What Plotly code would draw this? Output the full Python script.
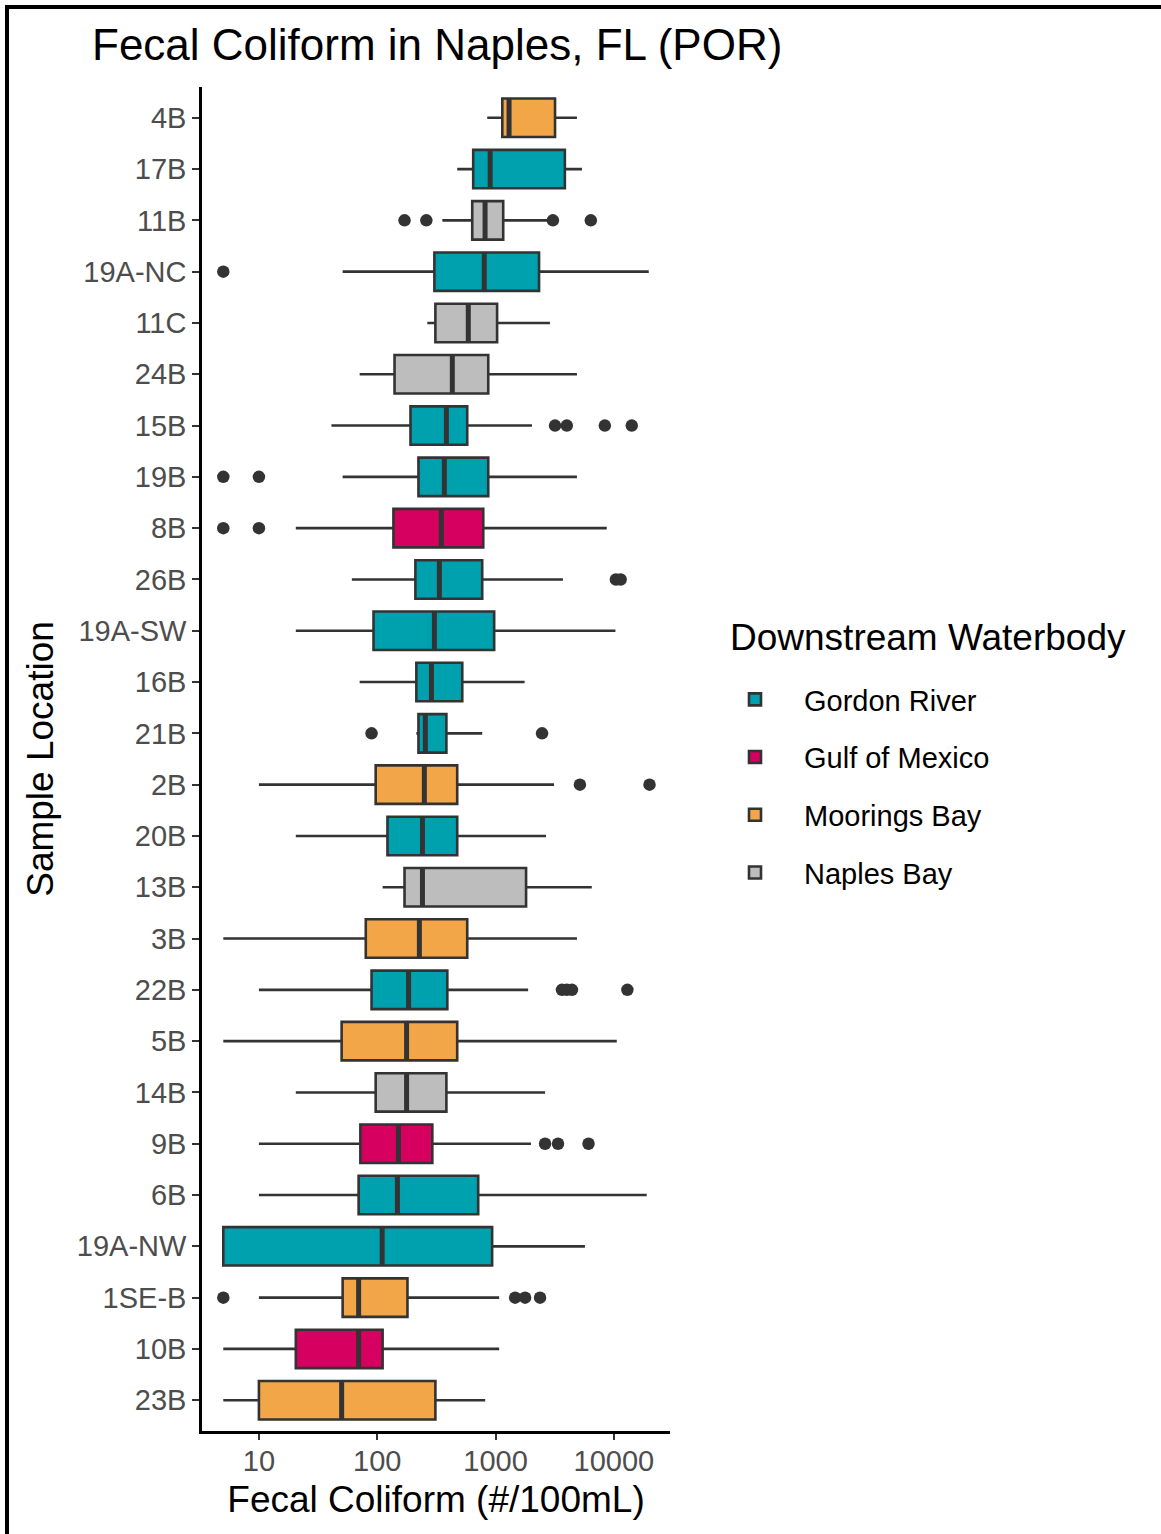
import plotly.graph_objects as go

# ---------------- data ----------------
sites = ["4B", "17B", "11B", "19A-NC", "11C", "24B", "15B", "19B", "8B", "26B",
         "19A-SW", "16B", "21B", "2B", "20B", "13B", "3B", "22B", "5B", "14B",
         "9B", "6B", "19A-NW", "1SE-B", "10B", "23B"]
waterbody = ["Moorings Bay", "Gordon River", "Naples Bay", "Gordon River", "Naples Bay",
             "Naples Bay", "Gordon River", "Gordon River", "Gulf of Mexico", "Gordon River",
             "Gordon River", "Gordon River", "Gordon River", "Moorings Bay", "Gordon River",
             "Naples Bay", "Moorings Bay", "Gordon River", "Moorings Bay", "Naples Bay",
             "Gulf of Mexico", "Gordon River", "Gordon River", "Moorings Bay", "Gulf of Mexico",
             "Moorings Bay"]
lower_whisker = [850, 474, 355, 51, 265, 71, 41, 51, 20.5, 61,
                 20.5, 71, 214, 10, 20.5, 111, 5, 10, 5, 20.5,
                 10, 10, 5, 10, 5, 5]
q1 = [1140, 647, 635, 304, 310, 140, 191, 223, 137, 210,
      93, 214, 223, 97, 122, 170, 80, 89.5, 50, 97,
      72, 69.6, 5, 51, 20.5, 10]
median = [1300, 900, 815, 802, 588, 431, 384, 369, 348, 335,
          304, 287, 255, 250, 241, 241, 227, 184, 177, 177,
          151, 148, 110, 69.6, 69.6, 50]
q3 = [3180, 3850, 1160, 2330, 1030, 867, 576, 867, 787, 771,
      973, 523, 384, 474, 474, 1810, 576, 391, 474, 384,
      292, 713, 935, 180, 111, 310]
upper_whisker = [4870, 5370, 2880, 19700, 2880, 4870, 2030, 4870, 8700, 3710,
                 10300, 1760, 771, 3120, 2670, 6500, 4870, 1884, 10570, 2620,
                 1990, 18930, 5690, 1072, 1072, 817]

outlier_site = ["11B", "11B", "11B", "11B",
                "19A-NC",
                "15B", "15B", "15B", "15B",
                "19B", "19B",
                "8B", "8B",
                "26B", "26B",
                "21B", "21B",
                "2B", "2B",
                "22B", "22B", "22B", "22B",
                "9B", "9B", "9B",
                "1SE-B", "1SE-B", "1SE-B", "1SE-B"]
outlier_value = [170, 260, 3050, 6380,
                 5,
                 3180, 4000, 8380, 14150,
                 5, 10,
                 5, 10,
                 10400, 11400,
                 89.5, 2470,
                 5160, 20000,
                 3640, 4000, 4420, 13000,
                 2620, 3370, 6100,
                 5, 1463, 1776, 2376]

groups = ["Gordon River", "Gulf of Mexico", "Moorings Bay", "Naples Bay"]
group_colors = ["#00A1AF", "#D5005F", "#F2A647", "#BDBDBD"]

xtick_vals = [10, 100, 1000, 10000]
xtick_text = ["10", "100", "1000", "10000"]

# ---------------- figure ----------------
W, H = 1161, 1534
L, R, T, B = 202, 491, 87, 103
pw, ph = W - L - R, H - T - B
FONT = "Liberation Sans, Arial, sans-serif"
LINE = "#333333"


def px_x(px):
    return (px - L) / pw


def px_y(py):
    return (T + ph - py) / ph


fig = go.Figure()

for g, col in zip(groups, group_colors):
    idx = [i for i, w in enumerate(waterbody) if w == g]
    fig.add_trace(go.Box(
        orientation="h",
        name=g,
        legendgroup=g,
        y=[sites[i] for i in idx],
        q1=[q1[i] for i in idx],
        median=[median[i] for i in idx],
        q3=[q3[i] for i in idx],
        lowerfence=[lower_whisker[i] for i in idx],
        upperfence=[upper_whisker[i] for i in idx],
        fillcolor=col,
        line=dict(color=LINE, width=2.6),
        whiskerwidth=0,
        width=0.75,
        boxpoints=False,
        hoverinfo="skip",
    ))

# thicker median bars (ggplot style)
fig.add_trace(go.Scatter(
    x=median, y=sites, mode="markers",
    marker=dict(symbol="line-ns", size=27.5, color=LINE, line=dict(color=LINE, width=5)),
    showlegend=False, hoverinfo="skip",
))

# outliers
fig.add_trace(go.Scatter(
    x=outlier_value, y=outlier_site, mode="markers",
    marker=dict(size=12.5, color=LINE),
    showlegend=False, hoverinfo="skip", cliponaxis=False,
))

fig.update_layout(
    width=W, height=H,
    margin=dict(l=L, r=R, t=T, b=B, pad=0),
    paper_bgcolor="white", plot_bgcolor="white",
    font=dict(family=FONT, color="black"),
    boxmode="overlay",
    title=dict(text="Fecal Coliform in Naples, FL (POR)",
               font=dict(size=44, color="black", family=FONT),
               x=92 / W, xanchor="left", xref="container",
               y=1 - 45 / H, yanchor="middle", yref="container"),
    xaxis=dict(
        type="log", range=[0.519, 4.474],
        tickvals=xtick_vals, ticktext=xtick_text,
        tickfont=dict(size=29, color="#4D4D4D", family=FONT),
        ticks="outside", ticklen=6, tickwidth=2, tickcolor=LINE,
        ticklabelstandoff=-4,
        showline=True, linecolor="black", linewidth=2.5,
        showgrid=False, zeroline=False,
        title=dict(text="Fecal Coliform (#/100mL)", standoff=11,
                   font=dict(size=37, color="black", family=FONT)),
    ),
    yaxis=dict(
        type="category", categoryorder="array", categoryarray=sites[::-1],
        range=[-0.6, len(sites) - 0.4],
        tickfont=dict(size=29, color="#4D4D4D", family=FONT),
        ticks="outside", ticklen=7, tickwidth=2, tickcolor=LINE,
        showline=True, linecolor="black", linewidth=2.5,
        showgrid=False, zeroline=False,
        title=dict(text="Sample Location", standoff=12,
                   font=dict(size=37, color="black", family=FONT)),
    ),
    legend=dict(
        font=dict(size=29, color="black", family=FONT),
        x=px_x(706), xanchor="left",
        y=px_y(674), yanchor="top",
        traceorder="grouped", tracegroupgap=17,
        itemwidth=88,
        bgcolor="rgba(0,0,0,0)",
    ),
    annotations=[
        dict(text="Downstream Waterbody", xref="paper", yref="paper",
             x=px_x(728), y=px_y(637), xanchor="left", yanchor="middle",
             showarrow=False, font=dict(size=37, color="black", family=FONT)),
    ],
    shapes=[
        dict(type="line", xref="paper", yref="paper",
             x0=px_x(7), x1=px_x(7), y0=px_y(H), y1=px_y(5),
             line=dict(color="black", width=4)),
        dict(type="line", xref="paper", yref="paper",
             x0=px_x(5), x1=px_x(W), y0=px_y(7), y1=px_y(7),
             line=dict(color="black", width=4)),
    ],
)

fig.write_html("out.html", config={"displayModeBar": False},
               post_script="document.body.style.margin='0';")
